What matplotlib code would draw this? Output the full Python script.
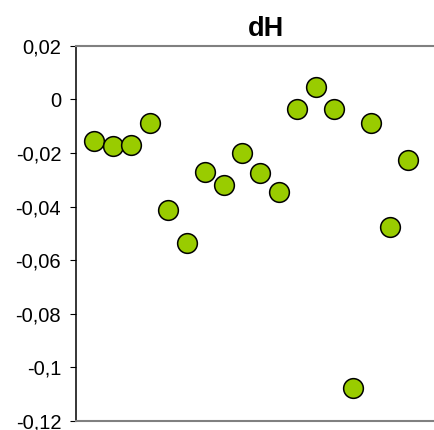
import matplotlib
matplotlib.use("Agg")
import matplotlib.pyplot as plt
from matplotlib.ticker import FixedLocator, FixedFormatter

plt.rcParams['font.family'] = ['Liberation Sans', 'DejaVu Sans']

title = "dH"
x_index = list(range(1, 19))
dh_values = [-0.0155, -0.0176, -0.0170, -0.0088, -0.0414, -0.0536, -0.0273, -0.0319,
             -0.0201, -0.0275, -0.0347, -0.0036, 0.0045, -0.0036, -0.1077, -0.0088,
             -0.0476, -0.0228]
y_ticks = [0.02, 0.0, -0.02, -0.04, -0.06, -0.08, -0.10, -0.12]
y_tick_labels = ["0,02", "0", "-0,02", "-0,04", "-0,06", "-0,08", "-0,1", "-0,12"]

W, H = 435, 430
fig = plt.figure(figsize=(W / 100, H / 100), dpi=100)
left, right, top, bottom = 76.5, 435, 45.7, 421.0
ax = fig.add_axes([left / W, (H - bottom) / H, (right - left) / W, (bottom - top) / H])

ax.scatter(x_index, dh_values, s=14.2 ** 2, c="#99CC00", edgecolors="black",
           linewidths=1.1, zorder=3, clip_on=False)

ax.set_ylim(-0.12, 0.02)
ax.set_xlim(0.04, 19.45)
ax.yaxis.set_major_locator(FixedLocator(y_ticks))
ax.yaxis.set_major_formatter(FixedFormatter(y_tick_labels))
ax.set_xticks([])
ax.tick_params(axis='y', direction='out', length=4, width=0.8, color='black',
               labelsize=14.5, pad=7)

ax.spines['right'].set_visible(False)
ax.spines['left'].set_color('black')
ax.spines['left'].set_linewidth(1.1)
for s in ('top', 'bottom'):
    ax.spines[s].set_color('#808080')
    ax.spines[s].set_linewidth(1.5)

fig.text(266 / W, 1 - 36 / H, title, ha='center', va='baseline',
         fontsize=19.5, fontweight='bold')

fig.savefig("out.png", dpi=100)
